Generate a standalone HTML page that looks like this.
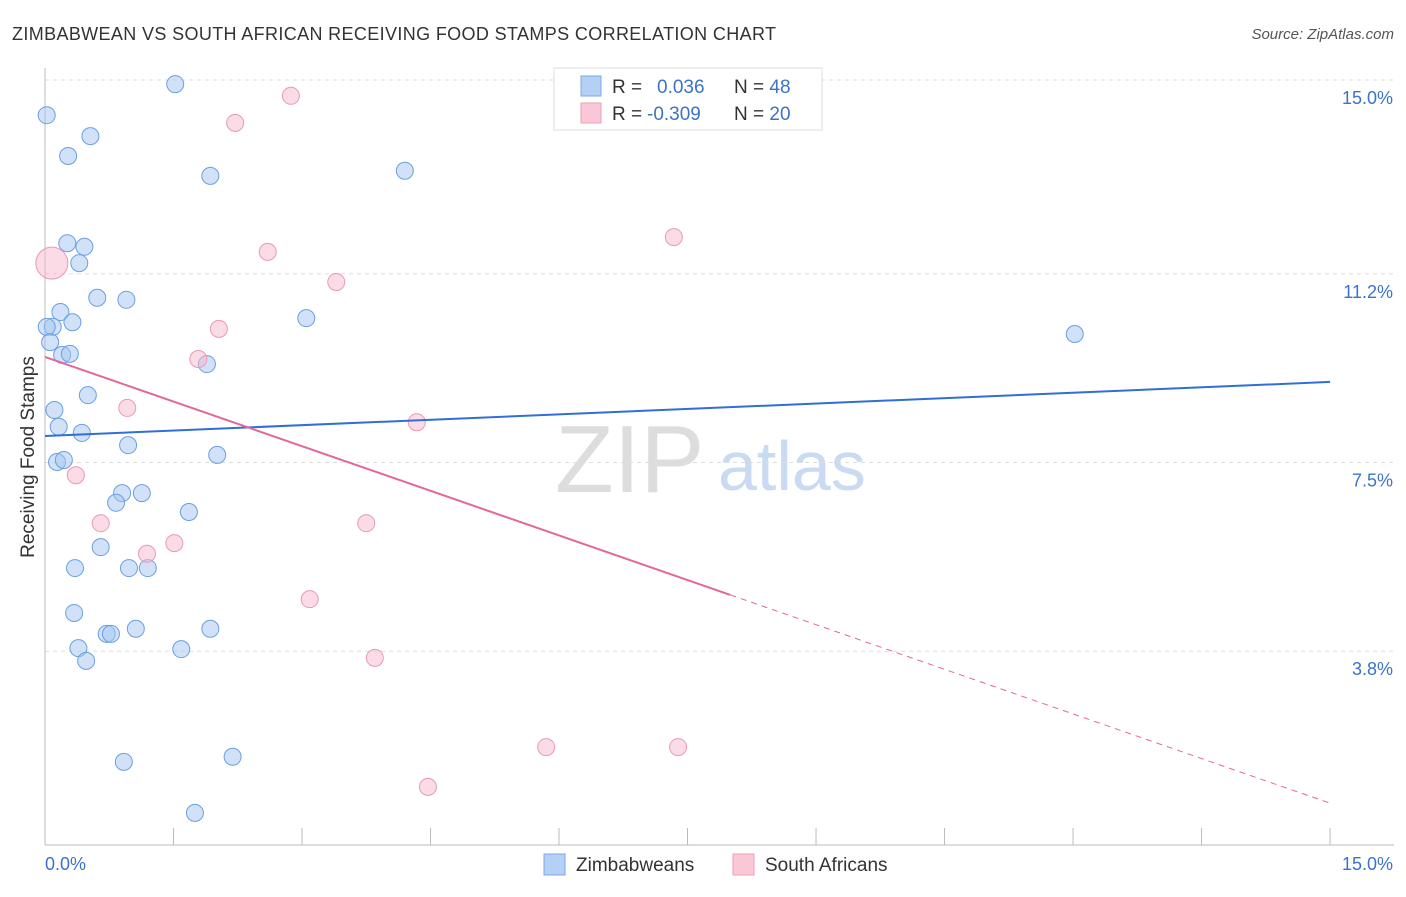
<!DOCTYPE html>
<html><head><meta charset="utf-8"><style>
body{margin:0;background:#fff;font-family:"Liberation Sans",sans-serif}
svg text{font-family:"Liberation Sans",sans-serif}
</style></head><body>
<svg id="c" width="1406" height="892">
<text x="12" y="40" font-size="18" fill="#333" textLength="764" lengthAdjust="spacing">ZIMBABWEAN VS SOUTH AFRICAN RECEIVING FOOD STAMPS CORRELATION CHART</text>
<text x="1394" y="39" font-size="15" fill="#555" font-style="italic" text-anchor="end">Source: ZipAtlas.com</text>
<text x="555" y="492" font-size="96" fill="#ddd" font-family="Liberation Serif">ZIP</text>
<text x="718" y="490" font-size="70" fill="#c9dbf3">atlas</text>
<text transform="translate(34,457) rotate(-90)" font-size="19" fill="#333" text-anchor="middle">Receiving Food Stamps</text>
<g id="grid"></g><g id="axes"></g><g id="marks"></g>
<g>
<rect x="554" y="68" width="268" height="62" fill="#fff" stroke="#ddd"/>
<rect x="581" y="76" width="20" height="20" fill="#b4d0f4" stroke="#7aa8e6"/>
<rect x="581" y="103" width="20" height="20" fill="#f9c7d5" stroke="#ec9fb7"/>
<text x="612" y="93" font-size="19" fill="#333">R = <tspan fill="#3b73c8" x="657">0.036</tspan><tspan fill="#333" x="734">N = </tspan><tspan fill="#3b73c8">48</tspan></text>
<text x="612" y="120" font-size="19" fill="#333">R = <tspan fill="#3b73c8" x="647">-0.309</tspan><tspan fill="#333" x="734">N = </tspan><tspan fill="#3b73c8">20</tspan></text>
</g>
<g>
<rect x="544" y="854" width="21" height="21" fill="#b4d0f4" stroke="#7aa8e6"/>
<text x="576" y="871" font-size="19" fill="#333">Zimbabweans</text>
<rect x="733" y="854" width="21" height="21" fill="#f9c7d5" stroke="#ec9fb7"/>
<text x="765" y="871" font-size="19" fill="#333">South Africans</text>
</g>
</svg>
<script>
const yTicks=[15.0,11.2,7.5,3.8];
const yTickLabels=["15.0%","11.2%","7.5%","3.8%"];
const xTickLabels=["0.0%","15.0%"];
const zimX=[0.02,1.52,0.53,0.27,1.93,4.20,0.26,0.46,0.40,0.61,0.95,0.18,0.32,0.09,0.02,0.06,3.05,0.20,0.29,1.89,12.02,0.50,0.11,0.16,0.43,0.97,0.14,0.22,2.01,0.90,0.83,1.13,1.68,0.65,0.35,0.98,1.20,0.34,0.72,0.77,1.06,1.93,0.39,0.48,1.59,0.92,2.19,1.75];
const zimY=[14.31,14.92,13.90,13.51,13.12,13.22,11.80,11.73,11.41,10.73,10.69,10.45,10.25,10.16,10.16,9.86,10.33,9.61,9.63,9.43,10.02,8.82,8.53,8.20,8.08,7.84,7.51,7.55,7.65,6.90,6.71,6.90,6.53,5.84,5.43,5.43,5.43,4.55,4.14,4.14,4.24,4.24,3.86,3.61,3.84,1.63,1.73,0.63];
const saX=[0.08,2.87,2.22,2.60,7.34,3.40,2.03,1.79,0.96,4.34,0.36,0.65,3.75,1.51,1.19,3.09,3.85,5.85,7.39,4.47];
const saY=[11.41,14.69,14.16,11.63,11.92,11.04,10.12,9.53,8.57,8.29,7.25,6.31,6.31,5.92,5.71,4.82,3.67,1.92,1.92,1.14];
const saBig=[1,0,0,0,0,0,0,0,0,0,0,0,0,0,0,0,0,0,0,0];
const zimTrend=[8.02,9.08];
const saTrend=[9.57,0.82];
const saSolidEnd=8.0;
const X=v=>45+v*85.67, Y=v=>80+(15-v)*51;
const NS="http://www.w3.org/2000/svg";
function mk(t,a,p){const e=document.createElementNS(NS,t);for(const k in a)e.setAttribute(k,a[k]);p.appendChild(e);return e;}
const grid=document.getElementById('grid'),axes=document.getElementById('axes'),marks=document.getElementById('marks');
yTicks.forEach((v,i)=>{
 const l=mk('line',{x1:45,x2:1394,y1:Y(v),y2:Y(v),stroke:'#ddd','stroke-dasharray':'4,4'},grid);
 
 
 const t=mk('text',{x:1393,y:Y(v)+24,'font-size':18,fill:'#3b73c8','text-anchor':'end'},axes);t.textContent=yTickLabels[i];
 
 
});
mk('line',{x1:45,x2:45,y1:68,y2:845,stroke:'#bbb'},axes);
mk('line',{x1:45,x2:1394,y1:845,y2:845,stroke:'#bbb'},axes);
for(let i=0;i<=10;i++){const tk=mk('line',{x1:X(i*1.5),x2:X(i*1.5),y1:828,y2:845,stroke:'#bbb'},axes);
 
 }
const xl0=mk('text',{x:45,y:870,'font-size':18,fill:'#3b73c8'},axes);xl0.textContent=xTickLabels[0];


const xl1=mk('text',{x:1393,y:870,'font-size':18,fill:'#3b73c8','text-anchor':'end'},axes);xl1.textContent=xTickLabels[1];


zimX.forEach((x,i)=>{const c=mk('circle',{cx:X(x),cy:Y(zimY[i]),r:8.5,fill:'rgba(164,198,242,0.5)',stroke:'#6b9fe2','stroke-width':1},marks);
 
 });
saX.forEach((x,i)=>{const c=mk('circle',{cx:X(x),cy:Y(saY[i]),r:saBig[i]?16:8.5,fill:'rgba(248,184,204,0.5)',stroke:'#e99ab3','stroke-width':1},marks);
 
 });
const zl=mk('line',{x1:X(0),y1:Y(zimTrend[0]),x2:X(15),y2:Y(zimTrend[1]),stroke:'#2f6fd6','stroke-width':2},marks);


const sy=v=>saTrend[0]+(saTrend[1]-saTrend[0])*v/15;
const sl=mk('line',{x1:X(0),y1:Y(saTrend[0]),x2:X(saSolidEnd),y2:Y(sy(saSolidEnd)),stroke:'#e2689a','stroke-width':2},marks);


const sd=mk('line',{x1:X(saSolidEnd),y1:Y(sy(saSolidEnd)),x2:X(15),y2:Y(saTrend[1]),stroke:'#e2689a','stroke-width':1,'stroke-dasharray':'6,5'},marks);


</script>
</body></html>
